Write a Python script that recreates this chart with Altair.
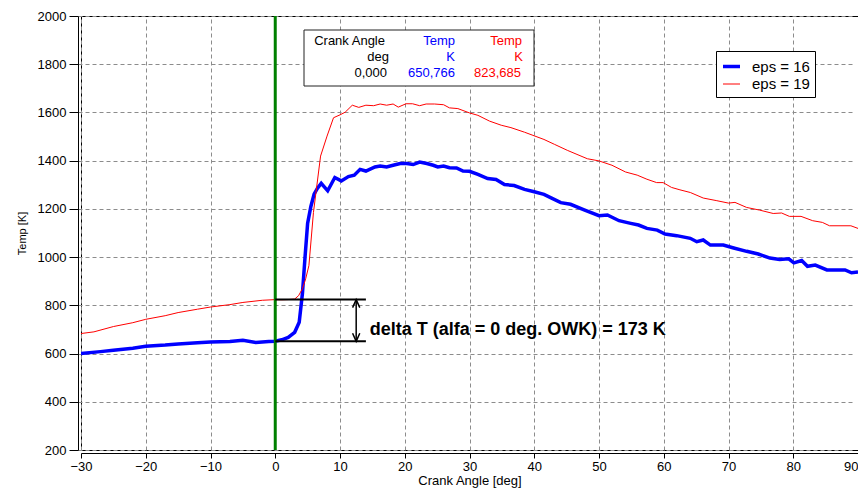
import altair as alt
import pandas as pd

# ---------------- data ----------------
angle16 = [-30, -27, -25, -22, -20, -17, -15, -12, -10, -7, -5, -3, -1, 0, 1, 2, 3, 3.7,
           4.2, 4.6, 5.0, 5.5, 6.0, 6.5, 7.1, 8.1, 9.2, 10.2, 11.3, 12.2, 13.1, 14.0, 15.4,
           16.2, 17.2, 18.2, 19.3, 20.3, 21.3, 22.3, 23.4, 24.4, 25.1, 26.0, 26.9, 28.0,
           29.0, 30.0, 31.3, 32.8, 34.1, 35.4, 36.9, 38.5, 40.0, 41.5, 42.6, 44.1, 45.6,
           47.7, 50.0, 51.3, 53.1, 54.9, 56.1, 57.4, 59.0, 60.2, 62.0, 64.1, 65.1, 66.1,
           67.2, 69.2, 70.8, 72.8, 74.6, 76.4, 77.9, 79.3, 80.1, 81.3, 82.2, 83.4, 85.2,
           88.0, 89.0, 90.0]
temp16 = [600, 608, 614, 622, 630, 635, 640, 645, 648, 650, 655, 646, 650, 650.766, 657,
          667, 688, 730, 850, 1000, 1140, 1210, 1261, 1285, 1306, 1275, 1330, 1316, 1334,
          1340, 1364, 1357, 1374, 1378, 1374, 1381, 1388, 1388, 1384, 1394, 1388, 1381,
          1374, 1378, 1371, 1370, 1357, 1356, 1343, 1326, 1322, 1301, 1297, 1281, 1271,
          1260, 1246, 1226, 1219, 1196, 1172, 1175, 1151, 1140, 1133, 1119, 1112, 1096,
          1089, 1078, 1064, 1071, 1050, 1050, 1038, 1024, 1013, 996, 990, 993, 976, 986,
          962, 967, 947, 947, 935, 938]

angle19 = [-30, -28, -25, -22, -20, -17, -15, -12, -10, -7, -5, -2, 0, 1, 2, 3, 3.6, 4.2,
           4.7, 5.2, 5.9, 7.0, 8.0, 9.0, 10.0, 10.8, 11.9, 12.9, 14.0, 15.2, 16.2, 17.2,
           18.2, 19.0, 20.2, 21.2, 22.3, 23.3, 24.6, 26.0, 26.9, 28.2, 30.0, 31.3, 33.1,
           34.9, 36.4, 38.5, 39.8, 41.5, 43.1, 45.1, 46.6, 48.2, 50.0, 52.0, 54.1, 55.9,
           57.4, 58.9, 59.9, 61.2, 62.5, 64.1, 66.1, 68.2, 70.0, 71.0, 72.8, 74.8, 76.9,
           78.2, 79.4, 81.2, 83.0, 84.5, 85.6, 88.9, 90.0]
temp19 = [683, 690, 712, 728, 742, 757, 770, 784, 793, 803, 812, 821, 823.685, 823, 824,
          826, 840, 869, 910, 965, 1185, 1419, 1502, 1578, 1590, 1601, 1630, 1621, 1630,
          1628, 1635, 1630, 1635, 1622, 1636, 1636, 1628, 1635, 1635, 1632, 1619, 1616,
          1598, 1588, 1564, 1547, 1537, 1518, 1505, 1488, 1468, 1443, 1426, 1408, 1399,
          1381, 1353, 1340, 1323, 1309, 1309, 1289, 1279, 1268, 1245, 1234, 1224, 1227,
          1206, 1195, 1181, 1183, 1169, 1169, 1151, 1144, 1130, 1130, 1119]

series_names = ["eps = 16", "eps = 19"]
series_colors = ["#0000ff", "#ff0000"]
series_widths = [3.5, 1.0]

cursor_angle = 0.0
cursor_t16 = 650.766
cursor_t19 = 823.685

x_ticks = [-30, -20, -10, 0, 10, 20, 30, 40, 50, 60, 70, 80, 90]
y_ticks = [200, 400, 600, 800, 1000, 1200, 1400, 1600, 1800, 2000]

FONT = "Liberation Sans"

df = pd.concat([
    pd.DataFrame({"angle": angle16, "temp": temp16, "series": series_names[0]}),
    pd.DataFrame({"angle": angle19, "temp": temp19, "series": series_names[1]}),
], ignore_index=True)

one = pd.DataFrame({"k": [0]})

xscale = alt.Scale(domain=[-30, 90], nice=False, zero=False)
yscale = alt.Scale(domain=[200, 2000], nice=False, zero=False)

lines = alt.Chart(df).mark_line(clip=True).encode(
    x=alt.X("angle:Q", scale=xscale,
            axis=alt.Axis(title="Crank Angle [deg]", values=x_ticks, format="d",
                          labelFlush=False,
                          labelAlign={"expr": f"datum.value == {x_ticks[-1]} ? 'right' : 'center'"})),
    y=alt.Y("temp:Q", scale=yscale,
            axis=alt.Axis(title="Temp [K]", values=y_ticks, format="d")),
    color=alt.Color("series:N",
                    scale=alt.Scale(domain=series_names, range=series_colors),
                    legend=alt.Legend(title=None)),
    strokeWidth=alt.StrokeWidth("series:N",
                                scale=alt.Scale(domain=series_names, range=series_widths),
                                legend=alt.Legend(title=None)),
)

cursor = alt.Chart(one).mark_rule(color="#008000", strokeWidth=3).encode(
    x=alt.datum(cursor_angle)
)

delta_lo = alt.Chart(one).mark_rule(color="black", strokeWidth=2).encode(
    x=alt.datum(cursor_angle), x2=alt.datum(14), y=alt.datum(cursor_t16)
)
delta_hi = alt.Chart(one).mark_rule(color="black", strokeWidth=2).encode(
    x=alt.datum(cursor_angle), x2=alt.datum(14), y=alt.datum(cursor_t19)
)
arrow = alt.Chart(one).mark_rule(color="black", strokeWidth=1.5).encode(
    x=alt.datum(12.5), y=alt.datum(cursor_t16), y2=alt.datum(cursor_t19)
)
head_lo = alt.Chart(one).mark_point(
    shape="M-0.45,-1L0,0L0.45,-1", filled=False, size=256, stroke="black",
    strokeWidth=1.5, opacity=1
).encode(x=alt.datum(12.5), y=alt.datum(cursor_t16))
head_hi = alt.Chart(one).mark_point(
    shape="M-0.45,1L0,0L0.45,1", filled=False, size=256, stroke="black",
    strokeWidth=1.5, opacity=1
).encode(x=alt.datum(12.5), y=alt.datum(cursor_t19))

delta_value = round(cursor_t19 - cursor_t16)
delta_text = alt.Chart(one).mark_text(
    align="left", baseline="middle", font=FONT, fontSize=18, fontWeight="bold", color="black"
).encode(
    x=alt.datum(14.6), y=alt.datum(697),
    text=alt.value(f"delta T (alfa = {int(cursor_angle)} deg. OWK) = {delta_value} K"),
)

# cursor read-out box (screen-fixed overlay)
box = alt.Chart(one).mark_rect(fill="white", stroke="#222222", strokeWidth=1).encode(
    x=alt.value(223), x2=alt.value(453), y=alt.value(14), y2=alt.value(70)
)


def fmt(v):
    return f"{v:.3f}".replace(".", ",")


def cell(txt, x, y, color):
    return alt.Chart(one).mark_text(
        align="right", baseline="middle", font=FONT, fontSize=13, color=color
    ).encode(x=alt.value(x), y=alt.value(y), text=alt.value(txt))


table = [
    cell("Crank Angle", 304, 25, "black"),
    cell("deg", 308, 41, "black"),
    cell(fmt(cursor_angle), 306, 57, "black"),
    cell("Temp", 374, 25, "#0000ff"),
    cell("K", 374, 41, "#0000ff"),
    cell(fmt(cursor_t16), 374, 57, "#0000ff"),
    cell("Temp", 441, 25, "#ff0000"),
    cell("K", 442, 41, "#ff0000"),
    cell(fmt(cursor_t19), 440, 57, "#ff0000"),
]

chart = alt.layer(
    lines, cursor, delta_lo, delta_hi, arrow, head_lo, head_hi, delta_text, box, *table
).properties(
    width=777, height=434,
    autosize=alt.AutoSizeParams(type="none"),
    padding={"left": 73, "top": 8, "right": 0, "bottom": 38},
).configure_view(
    stroke="black", strokeWidth=1
).configure_axis(
    labelFont=FONT, labelFontSize=13, labelColor="black",
    titleFont=FONT, titleFontWeight="normal", titleColor="black",
    grid=True, gridDash=[4, 3], gridColor="#8c8c8c", gridWidth=1,
    domainColor="black", domainWidth=1, tickColor="black", tickWidth=1,
    offset=3,
).configure_axisX(
    tickSize=5, labelPadding=2, titleFontSize=13, titlePadding=1
).configure_axisY(
    tickSize=9, labelPadding=3, titleFontSize=11, titlePadding=10
).configure_legend(
    orient="none", legendX=635, legendY=35,
    strokeColor="black", fillColor="white", padding=5, cornerRadius=0,
    symbolType="stroke", symbolSize=289, labelFont=FONT, labelFontSize=15,
    labelColor="black", labelOffset=10, rowPadding=0,
)

chart.save("out.html", embed_options={"renderer": "svg", "actions": False})
